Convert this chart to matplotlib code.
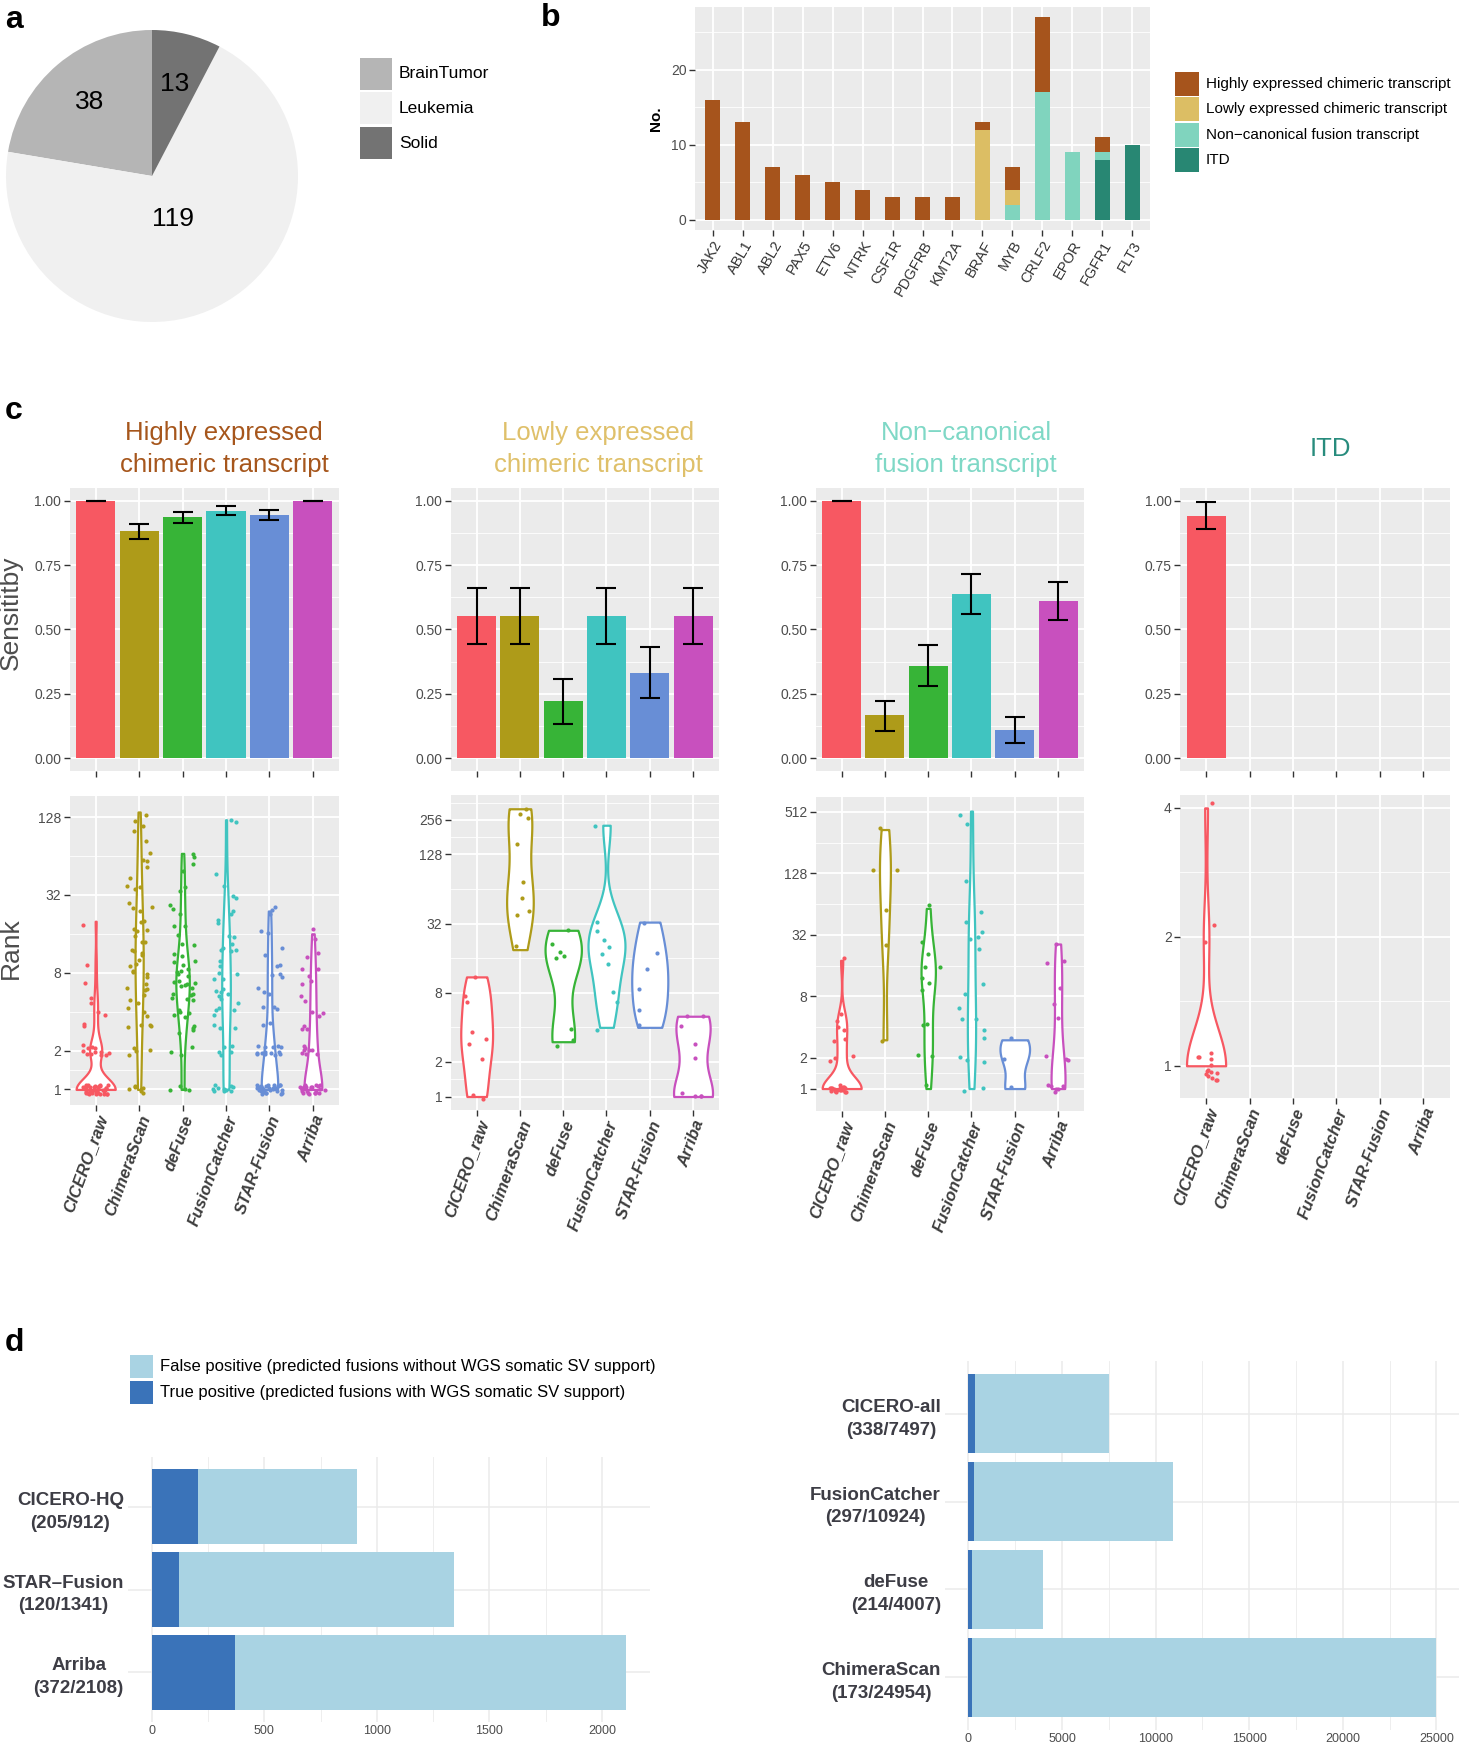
import numpy as np
import matplotlib
matplotlib.use('Agg')
import matplotlib.pyplot as plt
from matplotlib.patches import Rectangle

plt.rcParams['font.family'] = ['Liberation Sans', 'DejaVu Sans']

# ---------------- data ----------------
# a: disease types
pie_labels = ['BrainTumor', 'Leukemia', 'Solid']
pie_counts = [38, 119, 13]
pie_colors = ['#B5B5B5', '#F0F0F0', '#737373']

# b: fusion genes by class
genes = ['JAK2', 'ABL1', 'ABL2', 'PAX5', 'ETV6', 'NTRK', 'CSF1R', 'PDGFRB', 'KMT2A',
         'BRAF', 'MYB', 'CRLF2', 'EPOR', 'FGFR1', 'FLT3']
highly = [16, 13, 7, 6, 5, 4, 3, 3, 3, 1, 3, 10, 0, 2, 0]
lowly = [0, 0, 0, 0, 0, 0, 0, 0, 0, 12, 2, 0, 0, 0, 0]
noncanon = [0, 0, 0, 0, 0, 0, 0, 0, 0, 0, 2, 17, 9, 1, 0]
itd = [0, 0, 0, 0, 0, 0, 0, 0, 0, 0, 0, 0, 0, 8, 10]
class_labels = ['Highly expressed chimeric transcript', 'Lowly expressed chimeric transcript',
                'Non\u2212canonical fusion transcript', 'ITD']
class_colors = ['#A6541C', '#DCBE64', '#80D4BE', '#288773']

# c: sensitivity (with error bars) and rank per tool
tools = ['CICERO_raw', 'ChimeraScan', 'deFuse', 'FusionCatcher', 'STAR-Fusion', 'Arriba']
tool_colors = ['#F75862', '#AE9B19', '#37B437', '#40C4C0', '#688ED6', '#C850BE']

sens_high = [1.00, 0.884, 0.937, 0.962, 0.945, 1.00]
lo_high = [1.00, 0.853, 0.915, 0.946, 0.924, 1.00]
hi_high = [1.00, 0.912, 0.958, 0.979, 0.965, 1.00]
sens_low = [0.553, 0.553, 0.221, 0.553, 0.332, 0.553]
lo_low = [0.445, 0.445, 0.134, 0.445, 0.235, 0.445]
hi_low = [0.663, 0.663, 0.307, 0.663, 0.432, 0.663]
sens_nc = [1.00, 0.166, 0.359, 0.638, 0.109, 0.609]
lo_nc = [1.00, 0.107, 0.280, 0.560, 0.060, 0.537]
hi_nc = [1.00, 0.224, 0.441, 0.714, 0.160, 0.683]
sens_itd = [0.943, np.nan, np.nan, np.nan, np.nan, np.nan]
lo_itd = [0.889, np.nan, np.nan, np.nan, np.nan, np.nan]
hi_itd = [0.997, np.nan, np.nan, np.nan, np.nan, np.nan]

rank_high = [
    [1] * 40 + [2] * 12 + [3, 3, 4, 4, 5, 5, 7, 10, 20],
    [1, 1, 1, 1, 1, 1, 2, 2, 2, 2, 3, 3, 3, 3, 4, 4, 4, 5, 5, 5, 6, 6, 6, 7, 7, 8, 8, 8,
     9, 10, 10, 11, 12, 12, 13, 14, 14, 15, 16, 17, 18, 20, 21, 23, 25, 27, 29, 33, 35,
     38, 44, 50, 54, 64, 72, 85, 100, 118, 130, 140],
    [1, 1, 1, 1, 2, 2, 2, 3, 3, 3, 3, 4, 4, 4, 4, 4, 5, 5, 5, 5, 6, 6, 6, 6, 7, 7, 7, 7, 7,
     8, 8, 8, 8, 9, 9, 10, 10, 11, 12, 13, 13, 15, 17, 19, 22, 25, 28, 32, 35, 45, 52, 61, 67],
    [1] * 10 + [2, 2, 2, 2, 2, 3, 3, 3, 4, 4, 4, 4, 5, 5, 5, 5, 6, 6, 6, 7, 7, 8, 8, 9, 10,
                11, 12, 12, 13, 14, 14, 16, 18, 20, 22, 24, 28, 30, 37, 45, 112, 122],
    [1] * 30 + [2] * 14 + [3, 3, 4, 4, 4, 5, 6, 6, 7, 8, 8, 9, 10, 12, 13, 16, 16, 21, 23, 24],
    [1] * 25 + [2] * 8 + [3, 3, 3, 4, 4, 4, 5, 5, 6, 7, 7, 8, 9, 11, 11, 15, 16],
]
rank_low = [
    [1, 1, 2, 3, 3, 4, 7, 8, 11],
    [19, 37, 42, 56, 68, 150, 250, 300, 320],
    [3, 3, 4, 16, 17, 18, 20, 28],
    [4, 7, 8, 14, 17, 19, 25, 28, 36, 230],
    [4, 6, 9, 13, 19, 33],
    [1, 1, 1, 1, 2, 3, 4, 5, 5],
]
rank_nc = [
    [1] * 18 + [2, 2, 2, 3, 3, 4, 4, 5, 5, 18],
    [3, 24, 54, 140, 150, 343],
    [1, 2, 2, 4, 4, 9, 11, 13, 15, 15, 19, 28, 58],
    [1, 1, 2, 2, 2, 3, 4, 5, 5, 6, 8, 10, 22, 28, 30, 35, 45, 50, 110, 380, 520],
    [1, 2, 3],
    [1] * 6 + [2, 2, 2, 5, 7, 9, 16, 18, 26],
]
rank_itd = [[1] * 14 + [2, 2, 4], [], [], [], [], []]

col_titles = ['Highly expressed\nchimeric transcript', 'Lowly expressed\nchimeric transcript',
              'Non\u2212canonical\nfusion transcript', 'ITD']
col_title_colors = ['#A6561C', '#DFC06A', '#7FD8C6', '#288C7D']
rank_ticks = [[1, 2, 8, 32, 128], [1, 2, 8, 32, 128, 256], [1, 2, 8, 32, 128, 512], [1, 2, 4]]

# d: predicted fusions validated by WGS
d1_names = ['CICERO-HQ', 'STAR\u2013Fusion', 'Arriba']
d1_tp = [205, 120, 372]
d1_total = [912, 1341, 2108]
d2_names = ['CICERO-all', 'FusionCatcher', 'deFuse', 'ChimeraScan']
d2_tp = [338, 297, 214, 173]
d2_total = [7497, 10924, 4007, 24954]
d_labels = ['False positive (predicted fusions without WGS somatic SV support)',
            'True positive (predicted fusions with WGS somatic SV support)']
c_fp, c_tp = '#A9D3E3', '#3A73B9'

# ---------------- figure ----------------
W, H = 1460, 1744
fig = plt.figure(figsize=(W / 100, H / 100), dpi=100)


def box(x0, y0, x1, y1):
    return fig.add_axes([x0 / W, 1 - y1 / H, (x1 - x0) / W, (y1 - y0) / H])


def key(x, y, size, step, labels, colors, fs):
    for i, (lab, col) in enumerate(zip(labels, colors)):
        yy = y + i * step
        fig.add_artist(Rectangle((x / W, 1 - (yy + size) / H), size / W, size / H,
                                 transform=fig.transFigure, facecolor=col, edgecolor='none'))
        fig.text((x + size + 7) / W, 1 - (yy + size / 2) / H, lab, fontsize=fs,
                 ha='left', va='center')


def gg(ax, bg='#EBEBEB', grid='white', tick_len=4):
    ax.set_facecolor(bg)
    for s in ax.spines.values():
        s.set_visible(False)
    ax.grid(True, which='major', color=grid, lw=1.3)
    ax.grid(True, which='minor', color=grid, lw=0.6)
    ax.set_axisbelow(True)
    ax.tick_params(which='major', length=tick_len, width=1, color='#333333',
                   labelcolor='#4D4D4D', labelsize=10, pad=2)
    ax.tick_params(which='minor', length=0)


# panel letters
for letter, (px, py) in zip('abcd', [(14, 20), (551, 18), (14, 411), (14, 1343)]):
    fig.text(px / W, 1 - py / H, letter, fontsize=23, fontweight='bold', ha='center', va='center')

# ---- a: pie ----
axp = box(6, 30, 298, 322)
wedges, _ = axp.pie(pie_counts, colors=pie_colors, startangle=90, counterclock=True)
for w, cnt, rf in zip(wedges, pie_counts, [0.66, 0.33, 0.65]):
    ang = np.deg2rad((w.theta1 + w.theta2) / 2)
    axp.text(rf * np.cos(ang), rf * np.sin(ang), str(cnt), fontsize=19, ha='center', va='center')
axp.set_xlim(-1, 1)
axp.set_ylim(-1, 1)
key(360, 58, 32, 34.5, pie_labels, pie_colors, 12.5)

# ---- b: stacked bars ----
axb = box(695, 7, 1150, 230)
gg(axb)
xb = np.arange(len(genes))
bottom = np.zeros(len(genes))
for vals, col in zip([itd, noncanon, lowly, highly], class_colors[::-1]):
    axb.bar(xb, vals, 0.5, bottom=bottom, color=col)
    bottom += np.array(vals)
axb.set_xlim(-0.6, len(genes) - 0.4)
axb.set_ylim(-1.35, 28.35)
axb.set_yticks([0, 10, 20])
axb.set_yticks([5, 15, 25], minor=True)
axb.set_xticks(xb)
axb.set_xticklabels(genes, rotation=60, ha='right', rotation_mode='anchor', fontsize=10.5,
                    color='#333333')
axb.set_ylabel('No.', fontweight='bold', fontsize=11, labelpad=6)
key(1175, 72, 24, 25.3, class_labels, class_colors, 11)

# ---- c: sensitivity + rank ----
sens_all = [sens_high, sens_low, sens_nc, sens_itd]
lo_all = [lo_high, lo_low, lo_nc, lo_itd]
hi_all = [hi_high, hi_low, hi_nc, hi_itd]
rank_all = [rank_high, rank_low, rank_nc, rank_itd]
col_x = [(69.6, 339), (450.7, 719), (815.7, 1084), (1180, 1449.5)]
bot_y = [(796, 1105), (795, 1110), (797, 1111), (795, 1098)]
ylims = [(-0.40, 7.54), (-0.39, 8.72), (-0.73, 9.48), (-0.25, 2.10)]
title_x = [224, 598, 966, 1330]

rng = np.random.default_rng(11)  # jitter offsets only
xt = np.arange(len(tools))


def kde(v):
    v = np.asarray(v, float)
    n = len(v)
    sd = v.std(ddof=1)
    q75, q25 = np.percentile(v, [75, 25])
    lo = min(sd, (q75 - q25) / 1.34)
    if lo <= 0:
        lo = sd if sd > 0 else 1.0
    bw = 0.9 * lo * n ** -0.2
    g = np.linspace(v.min(), v.max(), 300)
    d = np.exp(-0.5 * ((g[:, None] - v[None, :]) / bw) ** 2).sum(1) / (n * bw * np.sqrt(2 * np.pi))
    return g, d


for c in range(4):
    x0, x1 = col_x[c]
    # title
    fig.text(title_x[c] / W, 1 - 449 / H, col_titles[c], color=col_title_colors[c],
             fontsize=18.5, ha='center', va='center', linespacing=1.45)

    # top: sensitivity
    ax = box(x0, 488, x1, 771)
    gg(ax)
    s = np.array(sens_all[c], float)
    lo = np.array(lo_all[c], float)
    hi = np.array(hi_all[c], float)
    ok = ~np.isnan(s)
    ax.bar(xt[ok], s[ok], 0.9, color=[tool_colors[i] for i in xt[ok]])
    ax.errorbar(xt[ok], s[ok], yerr=[s[ok] - lo[ok], hi[ok] - s[ok]], fmt='none',
                ecolor='black', capsize=7, elinewidth=1.5, capthick=1.5)
    ax.set_xlim(-0.6, 5.6)
    ax.set_ylim(-0.05, 1.05)
    ax.set_yticks([0, 0.25, 0.5, 0.75, 1.0])
    ax.set_yticklabels(['0.00', '0.25', '0.50', '0.75', '1.00'])
    ax.set_yticks([0.125, 0.375, 0.625, 0.875], minor=True)
    ax.set_xticks(xt)
    ax.set_xticklabels([])

    # bottom: rank violins
    by0, by1 = bot_y[c]
    ax = box(x0, by0, x1, by1)
    gg(ax)
    curves = []
    for i, r in enumerate(rank_all[c]):
        if len(r) > 1:
            curves.append((i, *kde(np.log2(r))))
    dmax = max(d.max() for _, _, d in curves)
    for i, g, d in curves:
        hw = d / dmax * 0.45
        ax.fill_betweenx(g, i - hw, i + hw, facecolor='white', edgecolor=tool_colors[i],
                         lw=1.6, zorder=2)
    for i, r in enumerate(rank_all[c]):
        if len(r) == 0:
            continue
        n = len(r)
        ax.scatter(i + rng.uniform(-0.3, 0.3, n), np.log2(r) + rng.uniform(-0.13, 0.13, n),
                   s=9, color=tool_colors[i], lw=0, zorder=3)
    tk = np.log2(rank_ticks[c])
    ax.set_yticks(tk)
    ax.set_yticklabels([str(t) for t in rank_ticks[c]])
    ext = np.append(tk, tk[-1] + (tk[-1] - tk[-2]))
    ax.set_yticks((ext[:-1] + ext[1:]) / 2, minor=True)
    ax.set_ylim(*ylims[c])
    ax.set_xlim(-0.6, 5.6)
    ax.set_xticks(xt)
    ax.set_xticklabels(tools, rotation=70, ha='right', rotation_mode='anchor',
                       fontsize=12, fontweight='bold', style='italic', color='#3D3D3D')

fig.text(11 / W, 1 - 613 / H, 'Sensititby', rotation=90, fontsize=19, color='#4D4D4D',
         ha='center', va='center')
fig.text(11 / W, 1 - 948 / H, 'Rank', rotation=90, fontsize=19, color='#4D4D4D',
         ha='center', va='center')

# ---- d: horizontal stacked bars ----
key(130, 1355, 23, 26, d_labels, [c_fp, c_tp], 12)

for names, tp, total, bx, step in [(d1_names, d1_tp, d1_total, (128, 1457, 650, 1722), 500),
                                   (d2_names, d2_tp, d2_total, (945, 1361, 1459, 1730), 5000)]:
    ax = box(*bx)
    gg(ax, bg='white', grid='#EBEBEB', tick_len=0)
    ax.grid(True, which='major', color='#EBEBEB', lw=1.1)
    ax.grid(True, which='minor', color='#EBEBEB', lw=0.6)
    yy = np.arange(len(names))
    ax.barh(yy, total, 0.9, color=c_fp)
    ax.barh(yy, tp, 0.9, color=c_tp)
    top = max(total)
    lim = (-0.05 * top, 1.05 * top)
    ticks = np.arange(0, lim[1], step)
    ax.set_xticks(ticks)
    ax.set_xticklabels([str(int(t)) for t in ticks], fontsize=9)
    ax.set_xticks(ticks + step / 2, minor=True)
    ax.set_xlim(*lim)
    ax.set_ylim(len(names) - 0.4, -0.6)
    ax.set_yticks(yy)
    ax.set_yticklabels([f'{n}\n({a}/{b})' for n, a, b in zip(names, tp, total)],
                       fontsize=13.5, fontweight='bold', color='#3D3D45', linespacing=1.45)
    for t in ax.get_yticklabels():
        t.set_multialignment('center')
    ax.tick_params(axis='y', pad=3)

fig.savefig('out.png', dpi=100)
